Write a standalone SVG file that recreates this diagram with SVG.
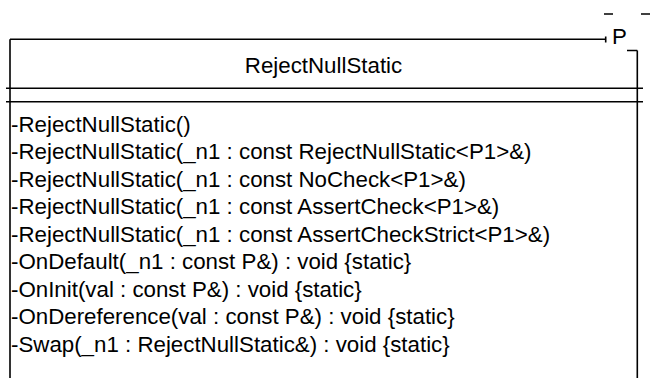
<svg xmlns="http://www.w3.org/2000/svg" width="650" height="378" viewBox="0 0 650 378">
<style>
.ln{stroke:#000;stroke-width:1.6;fill:none}
.t{font-family:"Liberation Sans",Arial,sans-serif;font-size:22.3px;fill:#000}
.c{text-anchor:middle}
</style>
<rect width="650" height="378" fill="#fff"/>
<g id="class-RejectNullStatic">
<path class="ln" d="M10,39.3 H605.5 M10,39.3 V378 M637.3,50.5 V378 M6,88.3 H643 M6,101.7 H643"/>
<text class="t c" x="323.5" y="72.8">RejectNullStatic</text>
<text class="t" x="11" y="131.8">-RejectNullStatic()</text>
<text class="t" x="11" y="159.3">-RejectNullStatic(_n1 : const RejectNullStatic&lt;P1&gt;&amp;)</text>
<text class="t" x="11" y="186.8">-RejectNullStatic(_n1 : const NoCheck&lt;P1&gt;&amp;)</text>
<text class="t" x="11" y="214.3">-RejectNullStatic(_n1 : const AssertCheck&lt;P1&gt;&amp;)</text>
<text class="t" x="11" y="241.8">-RejectNullStatic(_n1 : const AssertCheckStrict&lt;P1&gt;&amp;)</text>
<text class="t" x="11" y="269.3">-OnDefault(_n1 : const P&amp;) : void {static}</text>
<text class="t" x="11" y="296.8">-OnInit(val : const P&amp;) : void {static}</text>
<text class="t" x="11" y="324.3">-OnDereference(val : const P&amp;) : void {static}</text>
<text class="t" x="11" y="351.8">-Swap(_n1 : RejectNullStatic&amp;) : void {static}</text>
</g>
<g id="template-P">
<path class="ln" d="M604,14 H613 M641,14 H650 M605.7,36.5 V42.5 M627,50.5 H637.3"/>
<text class="t" x="612" y="43.5">P</text>
</g>
</svg>
